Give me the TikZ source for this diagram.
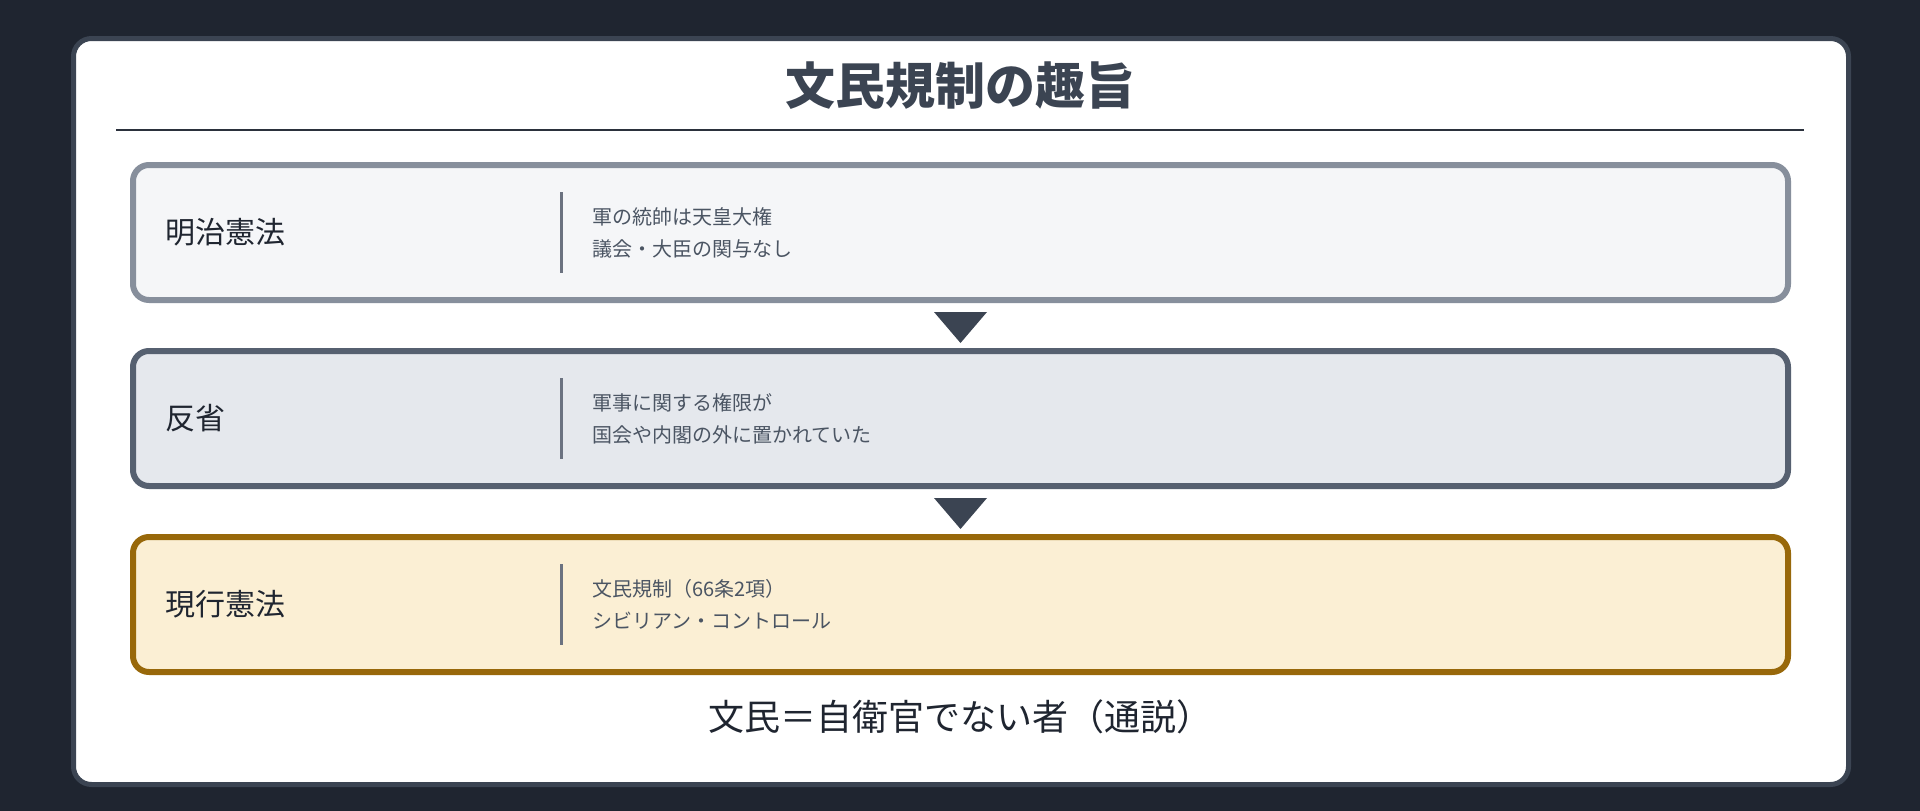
\documentclass[tikz,border=0pt]{standalone}
\usepackage{fontspec}
\setmainfont{Noto Sans CJK JP}
\usetikzlibrary{calc}
\definecolor{bgc}{HTML}{1F2530}
\definecolor{cardline}{HTML}{3B4452}
\definecolor{titlec}{HTML}{3B4452}
\definecolor{rulec}{HTML}{2B313C}
\definecolor{bAline}{HTML}{878F9C}
\definecolor{bAfill}{HTML}{F5F6F8}
\definecolor{bBline}{HTML}{566070}
\definecolor{bBfill}{HTML}{E5E8ED}
\definecolor{bCline}{HTML}{98680A}
\definecolor{bCfill}{HTML}{FBEFD4}
\definecolor{labelc}{HTML}{1F2530}
\definecolor{descc}{HTML}{4B5563}
\definecolor{barc}{HTML}{6B7280}
\definecolor{arrowc}{HTML}{3B4452}
\begin{document}
\begin{tikzpicture}[x=1pt,y=-1pt,
  card/.style={draw=cardline, line width=5pt, fill=white, rounded corners=18pt},
  stage/.style={rectangle, line width=6pt, rounded corners=16pt, outer sep=0pt, inner sep=0pt,
    minimum width=1655pt, minimum height=135pt},
  lbl/.style={anchor=west, inner sep=0pt, font=\fontsize{30}{36}\selectfont, text=labelc},
  desc/.style={anchor=west, inner sep=0pt, align=left, font=\fontsize{20}{32}\selectfont, text=descc},
  sepbar/.style={draw=barc, line width=3pt},
  downtri/.style={fill=arrowc, draw=none},
  titlestyle/.style={inner sep=0pt, font=\fontsize{50}{60}\selectfont\bfseries, text=titlec},
  footstyle/.style={inner sep=0pt, font=\fontsize{36}{42}\selectfont, text=labelc},
  rulestyle/.style={draw=rulec, line width=2.7pt}
]
\useasboundingbox (0,0) rectangle (1920,811);
\fill[bgc] (0,0) rectangle (1920,811);
\draw[card] (73.5,38.5) rectangle (1848.5,784.5);
\node[titlestyle] (title) at (960,86) {文民規制の趣旨};
\coordinate (ruleL) at (116,130);
\coordinate (ruleR) at (1804,130);
\draw[rulestyle] (ruleL) -- (ruleR);
% stages
\node[stage, draw=bAline, fill=bAfill] (s1) at (960.5,232.5) {};
\node[stage, draw=bBline, fill=bBfill] (s2) at (960.5,418.5) {};
\node[stage, draw=bCline, fill=bCfill] (s3) at (960.5,604.5) {};
% arrows
\fill[downtri] ($(s1.south)+(-26.5,12)$) -- ($(s1.south)+(26.5,12)$) -- ($(s1.south)+(0,43)$) -- cycle;
\fill[downtri] ($(s2.south)+(-26.5,12)$) -- ($(s2.south)+(26.5,12)$) -- ($(s2.south)+(0,43)$) -- cycle;
% separators
\foreach \s in {s1,s2,s3}{
  \draw[sepbar] ($(\s.center)+(-399,-40.5)$) -- ($(\s.center)+(-399,40.5)$);
}
% labels
\node[lbl] (l1) at (165,232.5) {明治憲法};
\node[lbl] (l2) at (165,418.5) {反省};
\node[lbl] (l3) at (165,604.5) {現行憲法};
\node[desc] (d1) at (592,232.5) {軍の統帥は天皇大権\\議会・大臣の関与なし};
\node[desc] (d2) at (592,418.5) {軍事に関する権限が\\国会や内閣の外に置かれていた};
\node[desc] (d3) at (592,604.5) {文民規制（66条2項）\\シビリアン・コントロール};
\node[footstyle] (foot) at (960,717) {文民＝自衛官でない者（通説）};
\end{tikzpicture}
\end{document}
